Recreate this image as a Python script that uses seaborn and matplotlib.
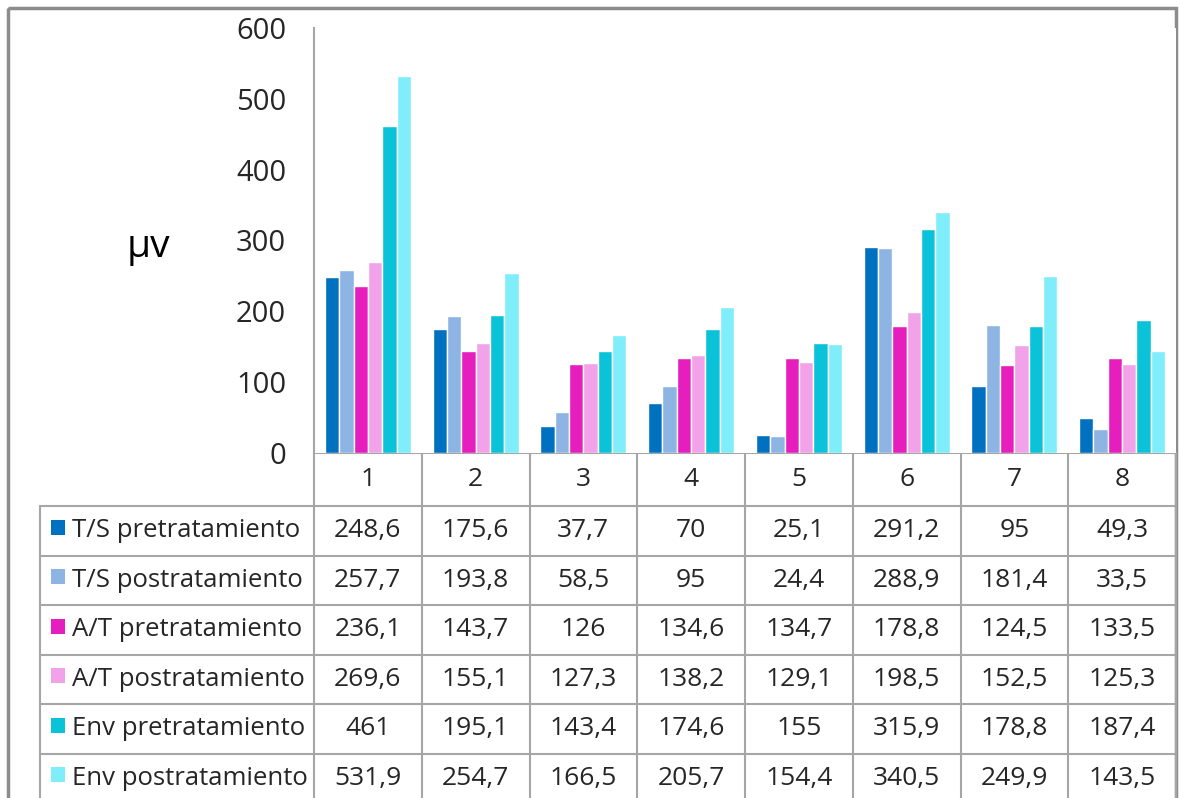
import pandas as pd
import seaborn as sns
import matplotlib.pyplot as plt
from matplotlib.patches import Rectangle

# data
categories = ["1", "2", "3", "4", "5", "6", "7", "8"]
series = ["T/S pretratamiento", "T/S postratamiento", "A/T pretratamiento",
          "A/T postratamiento", "Env pretratamiento", "Env postratamiento"]
ts_pre = [248.6, 175.6, 37.7, 70, 25.1, 291.2, 95, 49.3]
ts_post = [257.7, 193.8, 58.5, 95, 24.4, 288.9, 181.4, 33.5]
at_pre = [236.1, 143.7, 126, 134.6, 134.7, 178.8, 124.5, 133.5]
at_post = [269.6, 155.1, 127.3, 138.2, 129.1, 198.5, 152.5, 125.3]
env_pre = [461, 195.1, 143.4, 174.6, 155, 315.9, 178.8, 187.4]
env_post = [531.9, 254.7, 166.5, 205.7, 154.4, 340.5, 249.9, 143.5]
colors = ["#0070C0", "#8DB4E2", "#E61EBE", "#F2A2E8", "#0BC3D8", "#7FEEFA"]

values = [ts_pre, ts_post, at_pre, at_post, env_pre, env_post]
rows = []
for name, vals in zip(series, values):
    for cat, v in zip(categories, vals):
        rows.append({"cat": cat, "serie": name, "val": v})
df = pd.DataFrame(rows)

sns.set_style("white")
plt.rcParams["font.family"] = ["Open Sans", "DejaVu Sans"]

W, H = 1180, 798
fig = plt.figure(figsize=(W / 100, H / 100), dpi=100)
grid = "#A6A6A6"
txtc = "#262626"

# plot area in pixel terms
x0, x1, ytop, ybot = 314, 1176, 28, 453
ax = fig.add_axes([x0 / W, (H - ybot) / H, (x1 - x0) / W, (ybot - ytop) / H])
sns.barplot(data=df, x="cat", y="val", hue="serie", palette=colors,
            width=0.8, saturation=1, legend=False, ax=ax)
ax.set_ylim(0, 600)
ax.set_xlim(-0.5, len(categories) - 0.5)
ax.set_yticks(range(0, 601, 100))
ax.set_xticks([])
ax.set_xlabel("")
ax.set_ylabel("")
ax.tick_params(axis="y", length=0, pad=20, labelsize=21, labelcolor=txtc)
for s in ["top", "right", "bottom"]:
    ax.spines[s].set_visible(False)
ax.spines["left"].set_color(grid)
ax.spines["left"].set_linewidth(1.5)

# overlay in pixel coordinates for the frame and the data table
ov = fig.add_axes([0, 0, 1, 1], zorder=-1)
ov.set_xlim(0, W)
ov.set_ylim(H, 0)
ov.axis("off")

ov.add_patch(Rectangle((8, 8), 1168, 800, fill=False, ec="#8C8C8C", lw=2.5))
ov.text(148, 247, "μv", fontsize=28, ha="center", va="center", color="black")

n = len(categories)
colw = (x1 - x0) / n
row_top = 506
row_h = 49.5

# header row with category numbers
ov.plot([x0, x1], [ybot, ybot], color=grid, lw=1.5)
for i, c in enumerate(categories):
    ov.text(x0 + colw * (i + 0.5), (ybot + row_top) / 2, c, fontsize=19,
            ha="center", va="center", color=txtc)

# grid lines
for k in range(len(series) + 1):
    y = row_top + k * row_h
    ov.plot([40, x1], [y, y], color=grid, lw=1.5)
ov.plot([40, 40], [row_top, H], color=grid, lw=1.5)
for i in range(n + 1):
    ov.plot([x0 + i * colw] * 2, [ybot, H], color=grid, lw=1.5)

# rows
for r, (name, vals) in enumerate(zip(series, values)):
    yc = row_top + (r + 0.5) * row_h
    ov.add_patch(Rectangle((51, yc - 11), 14, 15, color=colors[r], lw=0))
    ov.text(72, yc, name, fontsize=18.5, ha="left", va="center", color=txtc)
    for i, v in enumerate(vals):
        txt = f"{v:g}".replace(".", ",")
        ov.text(x0 + colw * (i + 0.5), yc, txt, fontsize=19,
                ha="center", va="center", color=txtc)

fig.savefig("out.png", dpi=100)
